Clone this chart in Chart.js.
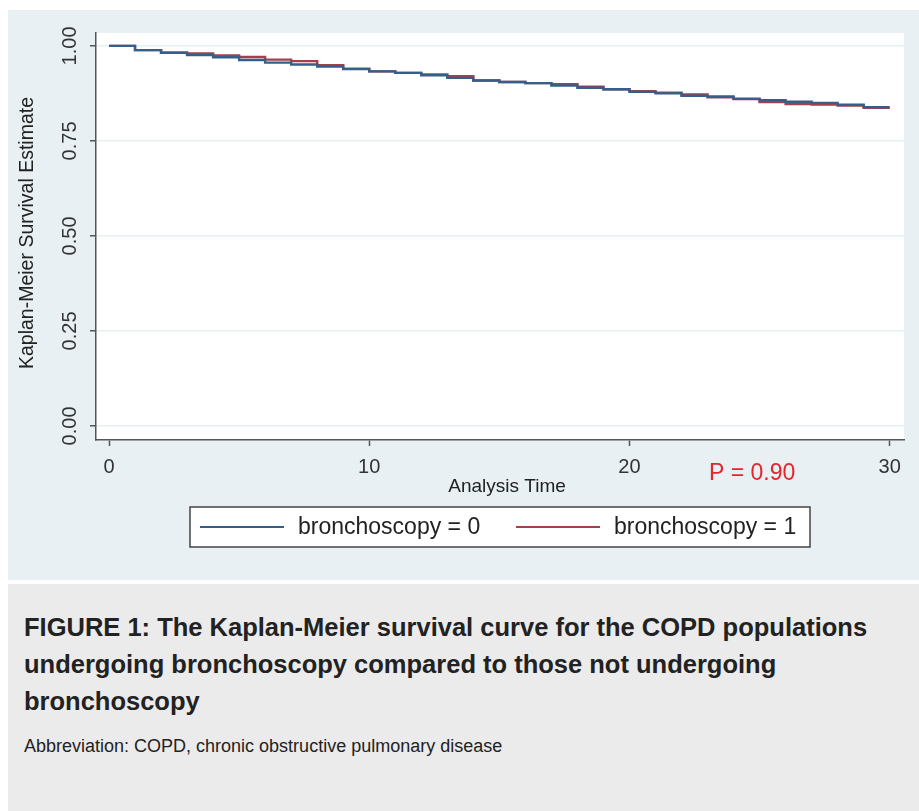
<!DOCTYPE html>
<html>
<head>
<meta charset="utf-8">
<script src="https://cdn.jsdelivr.net/npm/chart.js@4.4.1/dist/chart.umd.min.js"></script>
<style>
  body { margin: 0; background: #fff; width: 919px; height: 811px; position: relative; overflow: hidden; font-family: "Liberation Sans", Arial, Helvetica, sans-serif; }
  #graph { position: absolute; left: 8px; top: 10px; width: 911px; height: 570px; background: #e8f0f3; }
  #caption { position: absolute; left: 8px; top: 584px; width: 911px; height: 227px; background: #ebebeb; box-sizing: border-box; padding: 25px 0 0 16px; color: #222; }
  #caption .title { font-weight: bold; font-size: 25.5px; line-height: 37px; white-space: nowrap; }
  #caption .abbr { font-size: 18px; line-height: 22px; margin-top: 15px; }
</style>
</head>
<body>
<div id="graph"><canvas id="km" width="911" height="570"></canvas></div>
<div id="caption">
  <div class="title">FIGURE 1: The Kaplan-Meier survival curve for the COPD populations<br>undergoing bronchoscopy compared to those not undergoing<br>bronchoscopy</div>
  <div class="abbr">Abbreviation: COPD, chronic obstructive pulmonary disease</div>
</div>
<script>
// analysis time (step starts) and survival estimate on [t, t+1)
const times = [0,1,2,3,4,5,6,7,8,9,10,11,12,13,14,15,16,17,18,19,20,21,22,23,24,25,26,27,28,29,30];
const survNoBronch = [1.000,0.989,0.982,0.976,0.970,0.963,0.956,0.951,0.946,0.939,0.933,0.929,0.923,0.916,0.909,0.905,0.902,0.896,0.890,0.886,0.879,0.875,0.869,0.867,0.861,0.857,0.853,0.850,0.845,0.839,0.839];
const survBronch   = [1.000,0.989,0.982,0.980,0.975,0.971,0.964,0.960,0.949,0.940,0.933,0.929,0.925,0.920,0.909,0.905,0.902,0.899,0.893,0.886,0.881,0.877,0.872,0.865,0.860,0.852,0.847,0.846,0.843,0.837,0.837];
const seriesLabels = ['bronchoscopy = 0', 'bronchoscopy = 1'];
const xTicks = [0, 10, 20, 30];
const yTicks = [0, 0.25, 0.5, 0.75, 1];
const yTickLabels = ['0.00', '0.25', '0.50', '0.75', '1.00'];
const pValueText = 'P = 0.90';

const blue = '#345f8b';
const red = '#a3404a';
const font = '"Liberation Sans", Arial, Helvetica, sans-serif';

const toPoints = (vals) => times.map((t, i) => ({ x: t, y: vals[i] }));

const plotBg = {
  id: 'plotBg',
  beforeDraw(chart) {
    const { ctx, chartArea: a } = chart;
    ctx.save();
    ctx.fillStyle = '#ffffff';
    ctx.fillRect(a.left, a.top, a.right - a.left, a.bottom - a.top);
    ctx.restore();
  }
};

const extras = {
  id: 'extras',
  afterDraw(chart) {
    const ctx = chart.ctx;
    const ys = chart.scales.y;
    ctx.save();

    // rotated y tick labels
    ctx.fillStyle = '#333';
    ctx.font = '20px ' + font;
    ctx.textAlign = 'center';
    ctx.textBaseline = 'middle';
    yTicks.forEach((v, i) => {
      ctx.save();
      ctx.translate(62, ys.getPixelForValue(v));
      ctx.rotate(-Math.PI / 2);
      ctx.fillText(yTickLabels[i], 0, 0);
      ctx.restore();
    });

    // axis titles
    ctx.fillStyle = '#222';
    ctx.font = '19.5px ' + font;
    ctx.save();
    ctx.translate(20, 223);
    ctx.rotate(-Math.PI / 2);
    ctx.fillText('Kaplan-Meier Survival Estimate', 0, 0);
    ctx.restore();
    ctx.font = '19px ' + font;
    ctx.fillText('Analysis Time', 499, 477);

    // p value
    ctx.fillStyle = '#e3262d';
    ctx.font = '23px ' + font;
    ctx.textAlign = 'left';
    ctx.fillText(pValueText, 701, 464);

    // legend box
    ctx.fillStyle = '#fff';
    ctx.fillRect(182, 497, 620, 40);
    ctx.strokeStyle = '#444';
    ctx.lineWidth = 1.5;
    ctx.strokeRect(182, 497, 620, 40);
    chart.data.datasets.forEach((ds, i) => {
      const x0 = 192 + i * 316;
      ctx.strokeStyle = ds.borderColor;
      ctx.lineWidth = 2;
      ctx.beginPath();
      ctx.moveTo(x0, 517);
      ctx.lineTo(x0 + 84, 517);
      ctx.stroke();
      ctx.fillStyle = '#222';
      ctx.font = '23px ' + font;
      ctx.fillText(ds.label, x0 + 98, 518);
    });
    ctx.restore();
  }
};

new Chart(document.getElementById('km').getContext('2d'), {
  type: 'line',
  data: {
    datasets: [
      {
        label: seriesLabels[0],
        data: toPoints(survNoBronch),
        borderColor: blue,
        borderWidth: 2.4,
        pointRadius: 0,
        stepped: true,
        fill: false
      },
      {
        label: seriesLabels[1],
        data: toPoints(survBronch),
        borderColor: red,
        borderWidth: 2.4,
        pointRadius: 0,
        stepped: true,
        fill: false
      }
    ]
  },
  options: {
    responsive: false,
    animation: false,
    layout: { padding: { top: 23, right: 15, left: 0, bottom: 0 } },
    plugins: {
      legend: { display: false },
      tooltip: { enabled: false }
    },
    scales: {
      x: {
        type: 'linear',
        min: -0.5,
        max: 30.55,
        afterBuildTicks: (s) => { s.ticks = xTicks.map(v => ({ value: v })); },
        afterFit: (s) => { s.height = 140; },
        grid: { drawOnChartArea: false, drawTicks: true, tickLength: 6, tickColor: '#555', tickWidth: 1.5 },
        border: { display: true, color: '#555', width: 1.5 },
        ticks: { color: '#333', font: { family: font, size: 20 }, padding: 9, maxRotation: 0 }
      },
      y: {
        type: 'linear',
        min: -0.037,
        max: 1.034,
        afterBuildTicks: (s) => { s.ticks = yTicks.map(v => ({ value: v })); },
        afterFit: (s) => { s.width = 88; },
        grid: { color: '#e6eff2', lineWidth: 1.5, drawTicks: true, tickLength: 6, tickColor: '#555', tickWidth: 1.5 },
        border: { display: true, color: '#555', width: 1.5 },
        ticks: { display: false }
      }
    }
  },
  plugins: [plotBg, extras]
});
</script>
</body>
</html>
